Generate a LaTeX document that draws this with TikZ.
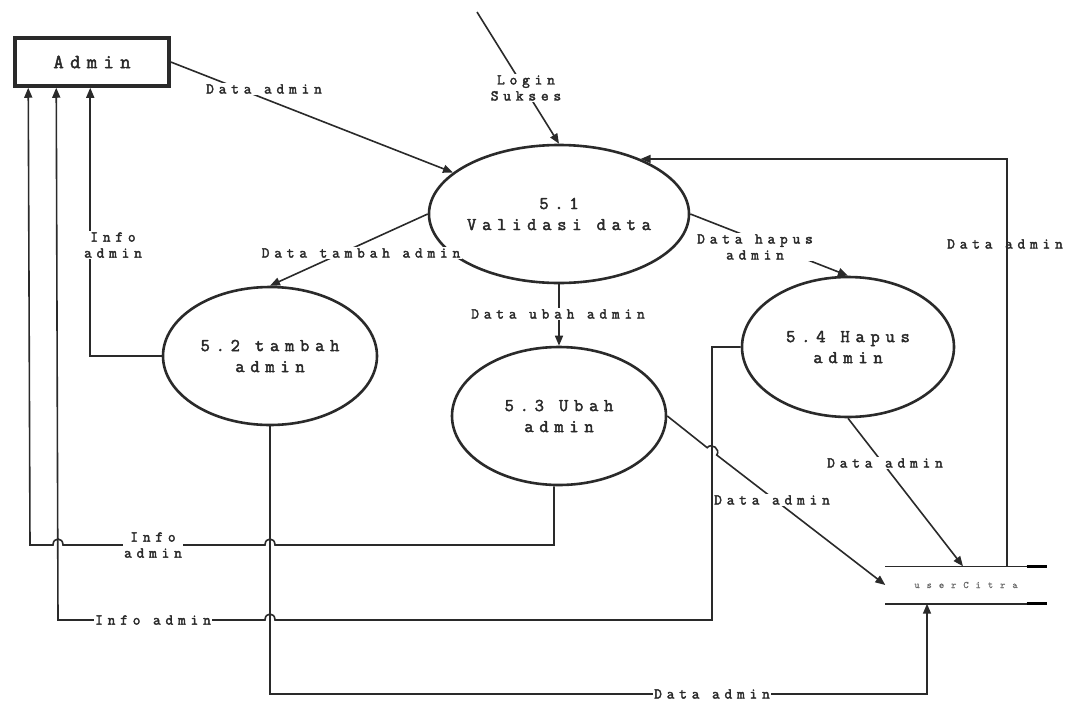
\documentclass[tikz,border=0pt]{standalone}
\usepackage{fontspec}
\newfontfamily\dfd{Latin Modern Mono}[LetterSpace=32, FakeBold=2.4]
\newfontfamily\dfdstore{Latin Modern Mono}[LetterSpace=70, FakeBold=0.8]
\usetikzlibrary{shapes.geometric,arrows.meta,calc}
\definecolor{ink}{HTML}{2A2A2A}
\begin{document}
\begin{tikzpicture}[x=1pt,y=-1pt,
  every node/.style={text=ink, font=\dfd},
  proc/.style={ellipse, draw=ink, line width=2.6pt, inner sep=0pt, align=center,
    font=\dfd\fontsize{18}{21}\selectfont},
  flow/.style={draw=ink, line width=1.6pt, -{Triangle[length=10pt,width=8pt]}},
  lbl/.style={fill=white, inner sep=1.5pt, align=center,
    font=\dfd\fontsize{15}{16}\selectfont},
]
\useasboundingbox[fill=white] (0,0) rectangle (1077,702);

% external entity and processes
\node[draw=ink, line width=3.5pt, minimum width=154pt, minimum height=48pt, inner sep=0pt,
      font=\dfd\fontsize{20}{22}\selectfont] (admin) at (92,62) {Admin};
\node[proc, minimum width=212pt, minimum height=138pt] (s1) at (559,214) {5.1\\Validasi data};
\node[proc, minimum width=214pt, minimum height=138pt] (s2) at (270,356) {5.2 tambah\\admin};
\node[proc, minimum width=214pt, minimum height=138pt] (s3) at (559,416) {5.3 Ubah\\admin};
\node[proc, minimum width=212pt, minimum height=140pt] (s4) at (848,347) {5.4 Hapus\\admin};

% data store
\node[minimum width=161pt, minimum height=37pt, inner sep=0pt, text=ink!70,
      font=\dfdstore\fontsize{10}{12}\selectfont] (store) at (966,585) {userCitra};
\draw[draw=ink, line width=1.6pt] (store.north west) -- (store.north east);
\draw[draw=ink, line width=1.6pt] (store.south west) -- (store.south east);
\draw[draw=black, line width=3pt] ([xshift=-20pt]store.north east) -- (store.north east);
\draw[draw=black, line width=3pt] ([xshift=-20pt]store.south east) -- (store.south east);

% flows into validation
\coordinate (loginsrc) at (477,12);
\draw[flow] (loginsrc) -- (s1.north);
\draw[flow] (admin.east) -- (s1);
\draw[flow] ([xshift=41pt]store.north) |- (s1.34);

% flows out of validation
\draw[flow] (s1.west) -- (s2.north);
\draw[flow] (s1.south) -- (s3.north);
\draw[flow] (s1.east) -- (s4.north);

% info back to the admin
\draw[flow] (s2.west) -| ([xshift=77pt]admin.south west);
\draw[flow] ([xshift=-5pt]s3.south) -- (554,545) -- (275,545)
  .. controls (275,537) and (265,537) .. (265,545) -- (63,545)
  .. controls (63,537) and (53,537) .. (53,545) -- (30,545)
  -- ([xshift=15pt]admin.south west);
\draw[flow] (s4.west) -- (712,347) -- (712,620) -- (275,620)
  .. controls (275,612) and (265,612) .. (265,620) -- (58,620)
  -- ([xshift=43pt]admin.south west);

% data written to the store
\draw[flow] (s2.south) -- (270,694) -| ([xshift=-39pt]store.south);
\draw[flow] (s3.east) -- (707.2,447.7)
  .. controls (711.5,442.2) and (721,449.5) .. (716.7,455) -- (store.west);
\draw[flow] (s4.south) -- ([xshift=-3pt]store.north);

% flow labels
\node[lbl] (l1) at (264,89) {Data admin};
\node[lbl] (l2) at (526,88) {Login\\Sukses};
\node[lbl] (l3) at (361,253) {Data tambah admin};
\node[lbl] (l4) at (755,247) {Data hapus\\admin};
\node[lbl] (l5) at (558,314) {Data ubah admin};
\node[lbl] (l6) at (113,245) {Info\\admin};
\node[lbl, fill=none] (l7) at (1005,244) {Data admin};
\node[lbl] (l8) at (153,545) {Info\\admin};
\node[lbl] (l9) at (153,620) {Info admin};
\node[lbl] (l10) at (712,694) {Data admin};
\node[lbl] (l11) at (772,500) {Data admin};
\node[lbl] (l12) at (885,463) {Data admin};
\end{tikzpicture}
\end{document}
